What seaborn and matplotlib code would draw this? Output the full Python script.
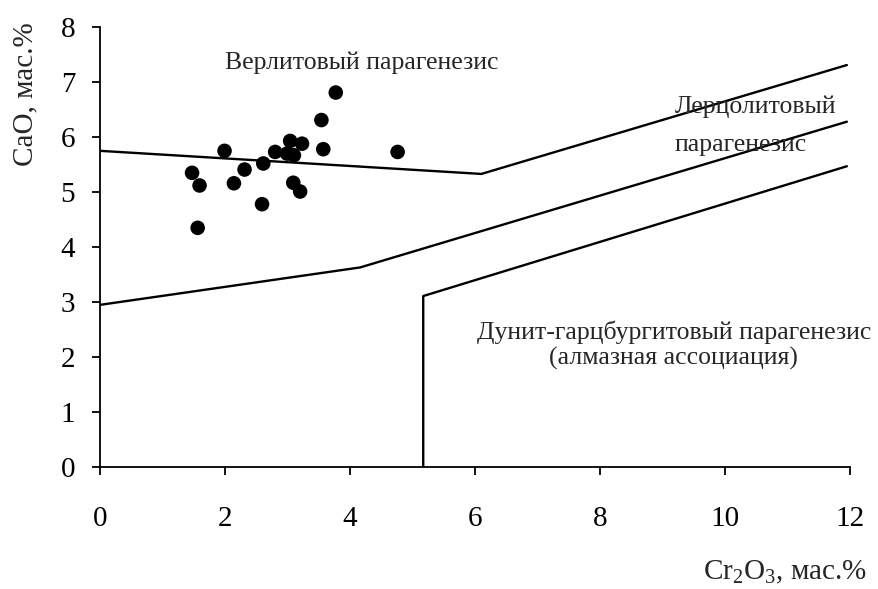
import matplotlib
matplotlib.use("Agg")
import matplotlib.pyplot as plt
import seaborn as sns

# точки: Cr2O3 и CaO, мас.%
cr2o3 = [3.77, 3.54, 1.99, 3.04, 3.23, 3.57, 2.80, 2.99, 3.10, 4.76,
         1.47, 2.31, 2.61, 1.59, 2.14, 3.09, 3.20, 2.59, 1.56]
cao = [6.81, 6.31, 5.75, 5.93, 5.88, 5.78, 5.73, 5.70, 5.67, 5.73,
       5.35, 5.41, 5.52, 5.12, 5.16, 5.17, 5.01, 4.78, 4.35]

# границы полей парагенезисов
wehrlite_x = [0.0, 6.1, 11.95]
wehrlite_y = [5.75, 5.33, 7.31]
lherz_x = [0.0, 4.16, 11.95]
lherz_y = [2.95, 3.63, 6.28]
dunite_x = [5.17, 5.17, 11.95]
dunite_y = [0.0, 3.11, 5.47]

sns.set_style("ticks")
plt.rcParams["font.family"] = ["Liberation Serif", "DejaVu Serif"]
plt.rcParams["mathtext.fontset"] = "custom"
plt.rcParams["mathtext.rm"] = "Liberation Serif"

fig = plt.figure(figsize=(8.79, 5.89), dpi=100)
ax = fig.add_axes([0.114, 0.207, 0.853, 0.747])

for xs, ys in [(wehrlite_x, wehrlite_y), (lherz_x, lherz_y), (dunite_x, dunite_y)]:
    sns.lineplot(x=xs, y=ys, ax=ax, sort=False, estimator=None, color="black", lw=1.7)

sns.scatterplot(x=cr2o3, y=cao, ax=ax, color="black", s=110, edgecolor="none", zorder=3)

ax.set_xlim(0, 12)
ax.set_ylim(0, 8)
ax.set_xticks(range(0, 13, 2))
ax.set_yticks(range(0, 9))
sns.despine(ax=ax)
for sp in ax.spines.values():
    sp.set_linewidth(1.3)
    sp.set_color("black")
ax.tick_params(direction="out", length=6, width=1.3, labelsize=21, colors="black")
ax.tick_params(axis="x", pad=22)
ax.tick_params(axis="y", pad=12)

ax.text(4.19, 7.36, "Верлитовый парагенезис", ha="center", va="center", fontsize=18.5)
ax.text(9.2, 6.2, "Лерцолитовый\nпарагенезис", ha="left", va="center", fontsize=18.5,
        linespacing=1.95)
ax.text(9.18, 2.21, "Дунит-гарцбургитовый парагенезис\n(алмазная ассоциация)",
        ha="center", va="center", fontsize=18.5, linespacing=1.17)

fig.text(0.029, 0.84, "CaO, мас.%", rotation=90, ha="center", va="center", fontsize=21)
fig.text(0.893, 0.028, r"Cr$_\mathregular{2}$O$_\mathregular{3}$, мас.%", ha="center",
         va="center", fontsize=21)

fig.savefig("out.png", dpi=100)
